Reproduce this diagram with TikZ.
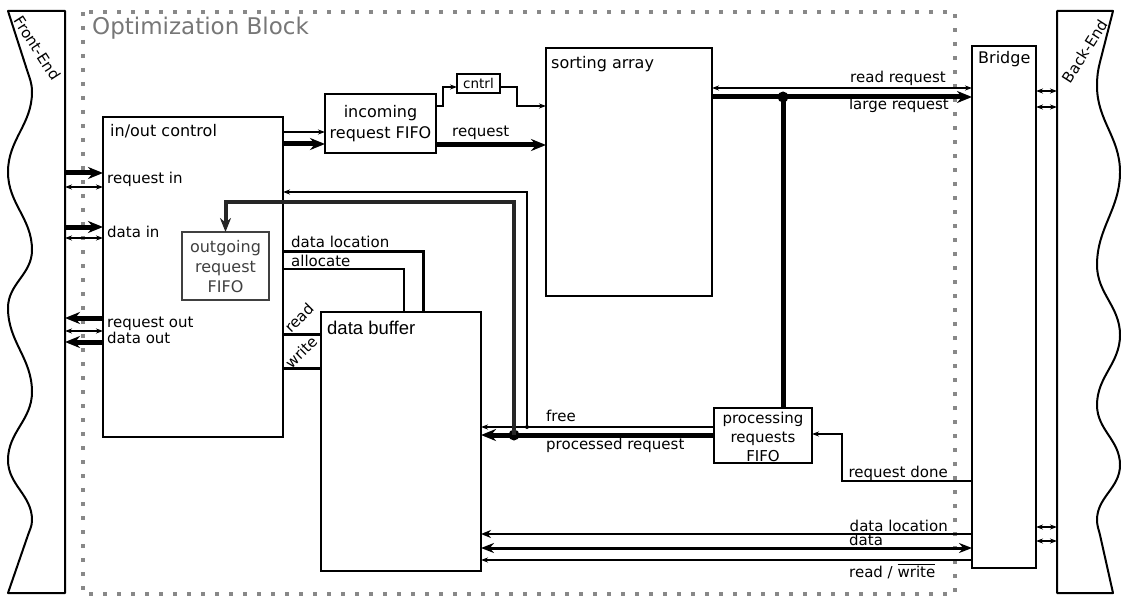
\documentclass[tikz,border=0pt]{standalone}
\usepackage{fontspec}
\setmainfont{DejaVu Sans}
\newfontfamily\arialfont{Liberation Sans}
\usetikzlibrary{arrows.meta,calc}
\definecolor{dotgray}{HTML}{888888}
\definecolor{labgray}{HTML}{777777}
\definecolor{dkgray}{HTML}{404040}
\begin{document}
\begin{tikzpicture}[x=1pt,y=-1pt,
  box/.style={draw,line width=2pt,inner sep=0pt,outer sep=0pt,anchor=north west},
  ttl/.style={inner sep=0pt,anchor=base west,font=\fontsize{16}{19}\selectfont},
  lbl/.style={inner sep=0pt,anchor=base west,font=\fontsize{15}{18}\selectfont},
  rlbl/.style={inner sep=0pt,anchor=base east,font=\fontsize{15}{18}\selectfont},
  slbl/.style={inner sep=0pt,sloped,pos=0.5,font=\fontsize{15}{18}\selectfont},
  thinln/.style={line width=1.2pt},
  thinarr/.style={line width=1.2pt,-{Stealth[length=7pt,width=5pt]}},
  thindbl/.style={line width=1.2pt,{Stealth[length=7pt,width=5pt]}-{Stealth[length=7pt,width=5pt]}},
  thickarr/.style={line width=5pt,-{Stealth[length=15pt,width=12pt]}},
  medln/.style={line width=3pt},
  junction/.style={circle,fill,inner sep=0pt,minimum size=11pt},
  smalljunction/.style={circle,fill,inner sep=0pt,minimum size=4pt}
]
\useasboundingbox (0,0) rectangle (1121,596);

% Optimization block frame
\draw[dotgray,line width=4pt,dash pattern=on 4pt off 10pt] (83,12) rectangle (955,594);
\node[inner sep=0pt,anchor=base west,text=labgray,font=\fontsize{23}{26}\selectfont] (optlbl) at (92,35) {Optimization Block};

% Front-End
\draw[line width=2pt,line join=round,fill=white] (65,593) -- (65,11) -- (8,11) -- (27,70)
  to[out=288,in=90] (32,92) to[out=270,in=90] (8,172) to[out=270,in=90] (32,250)
  to[out=270,in=90] (8,308) to[out=270,in=90] (32,392) to[out=270,in=90] (8,460)
  to[out=270,in=90] (32,520) to[out=270,in=71] (28,535) -- (8,593) -- cycle;
\path (15,13) -- node[slbl] (fetxt) {Front-End} (60,83);
\coordinate (fe) at (65,0);

% Back-End
\draw[line width=2pt,line join=round,fill=white] (1057,593) -- (1057,11) -- (1113,11) -- (1100,62)
  to[out=256,in=90] (1097,86) to[out=270,in=90] (1120,172) to[out=270,in=90] (1097,265)
  to[out=270,in=90] (1120,335) to[out=270,in=90] (1097,405) to[out=270,in=90] (1120,465)
  to[out=270,in=90] (1097,520) to[out=270,in=103] (1100,535) -- (1113,593) -- cycle;
\path (1063,86) -- node[slbl] (betxt) {Back-End} (1107,17);
\coordinate (be) at (1057,0);

% Boxes
\node[box,minimum width=180pt,minimum height=320pt] (io) at (103,117) {};
\node[ttl] (iot) at (110,137) {in/out control};
\node[box,minimum width=111pt,minimum height=59pt] (inc) at (325,94) {};
\node[align=center,inner sep=0pt,font=\fontsize{16}{21}\selectfont] (inct) at (380.5,124) {incoming\\request FIFO};
\node[box,line width=2.5pt,minimum width=43pt,minimum height=19pt] (cn) at (457,74) {};
\node[inner sep=0pt,font=\fontsize{13.5}{16}\selectfont] (cnt) at (478.5,83) {cntrl};
\node[box,minimum width=166pt,minimum height=248pt] (sort) at (546,48) {};
\node[ttl] (sortt) at (551,69) {sorting array};
\node[box,draw=dkgray,minimum width=87pt,minimum height=68pt] (ofifo) at (182,232) {};
\node[align=center,inner sep=0pt,text=dkgray,font=\fontsize{16}{20}\selectfont] (ofifot) at (225.5,267) {outgoing\\request\\FIFO};
\node[box,minimum width=160pt,minimum height=259pt] (db) at (321,312) {};
\node[inner sep=0pt,anchor=base west,font=\arialfont\fontsize{18.5}{21}\selectfont] (dbt) at (327,334) {data buffer};
\node[box,minimum width=98pt,minimum height=55pt] (proc) at (714,408) {};
\node[align=center,inner sep=0pt,font=\fontsize{15}{19}\selectfont] (proct) at (763,437) {processing\\requests\\FIFO};
\node[box,minimum width=64pt,minimum height=522pt] (br) at (972,46) {};
\node[ttl] (brt) at (978,64) {Bridge};

% Front-End <-> in/out control
\draw[thickarr] (fe |- 0,173) -- (io.west |- 0,173);
\draw[thindbl] (fe |- 0,187) -- (io.west |- 0,187);
\draw[thickarr] (fe |- 0,227) -- (io.west |- 0,227);
\draw[thindbl] (fe |- 0,238) -- (io.west |- 0,238);
\draw[thickarr] (io.west |- 0,318) -- (fe |- 0,318);
\draw[thindbl] (fe |- 0,331) -- (io.west |- 0,331);
\draw[thickarr] (io.west |- 0,342) -- (fe |- 0,342);
\node[lbl] (l1) at (107,183) {request in};
\node[lbl] (l2) at (107,237) {data in};
\node[lbl] (l3) at (107,327) {request out};
\node[lbl] (l4) at (107,343) {data out};

% in/out control -> incoming FIFO
\draw[thinarr] (io.east |- 0,132) -- (inc.west |- 0,132);
\draw[thickarr] (io.east |- 0,144) -- (inc.west |- 0,144);
% incoming FIFO -> sorting array
\draw[thickarr] (inc.east |- 0,145) -- (sort.west |- 0,145);
\node[lbl] (l5) at (452,137) {request};
% cntrl
\draw[thinarr] (inc.east |- 0,106) -- (443,106) -- (443,87) -- (cn.west |- 0,87);
\draw[thinarr] (cn.east |- 0,87) -- (517,87) -- (517,106) -- (sort.west |- 0,106);

% sorting array -> Bridge
\draw[thindbl] (sort.east |- 0,88) -- (br.west |- 0,88);
\draw[thickarr] (sort.east |- 0,97) -- (br.west |- 0,97);
\node[junction] (j2) at (783,97) {};
\draw[line width=5pt] (j2.center) -- (proc.north -| j2);
\node[rlbl] (l6) at (946,83) {read request};
\node[rlbl] (l7) at (949,110) {large request};

% processing FIFO -> data buffer
\draw[thinarr] (proc.west |- 0,427) -- (db.east |- 0,427);
\draw[thickarr] (proc.west |- 0,435) -- (db.east |- 0,435);
\node[junction] (j1) at (514,435) {};
\node[smalljunction] (j3) at (527,427) {};
\node[lbl] (l8) at (546,421) {free};
\node[lbl] (l9) at (546,449) {processed request};
\draw[thinarr] (j3.center) -- (j3.center |- 0,192) -- (io.east |- 0,192);
\draw[line width=4pt,black!85,-{Stealth[length=14pt,width=11pt]}] (j1.center) -- (j1.center |- 0,202) -- (ofifo.north |- 0,202) -- (ofifo.north);

% in/out control -> data buffer
\draw[medln] (io.east |- 0,251) -- (423,251) -- (db.north -| 423,0);
\draw[thinln] (io.east |- 0,269) -- (404,269) -- (db.north -| 404,0);
\node[lbl] (l10) at (291,247) {data location};
\node[lbl] (l11) at (291,266) {allocate};
\draw[medln] (io.east |- 0,334) -- (db.west |- 0,334);
\draw[medln] (io.east |- 0,368) -- (db.west |- 0,368);
\path (288,329) -- node[slbl] (l12) {read} (310,307);
\path (289,364) -- node[slbl] (l13) {write} (313,340);

% Bridge -> processing FIFO
\draw[thinarr] (br.west |- 0,481) -- (842,481) -- (842,434) -- (proc.east |- 0,434);
\node[rlbl] (l14) at (948,477) {request done};

% Bridge <-> data buffer
\draw[line width=2.5pt,-{Stealth[length=10pt,width=8pt]}] (br.west |- 0,534) -- (db.east |- 0,534);
\draw[line width=3pt,{Stealth[length=13pt,width=10pt]}-{Stealth[length=13pt,width=10pt]}] (db.east |- 0,548) -- (br.west |- 0,548);
\draw[thinarr] (br.west |- 0,560) -- (db.east |- 0,560);
\node[rlbl] (l15) at (948,531) {data location};
\node[lbl] (l16) at (849,545) {data};
\node[lbl] (l17) at (849,577) {read / $\overline{\hbox{write}}$};

% Bridge <-> Back-End
\draw[thindbl] (br.east |- 0,91) -- (be |- 0,91);
\draw[thindbl] (br.east |- 0,107) -- (be |- 0,107);
\draw[thindbl] (br.east |- 0,527) -- (be |- 0,527);
\draw[thindbl] (br.east |- 0,541) -- (be |- 0,541);
\end{tikzpicture}
\end{document}
